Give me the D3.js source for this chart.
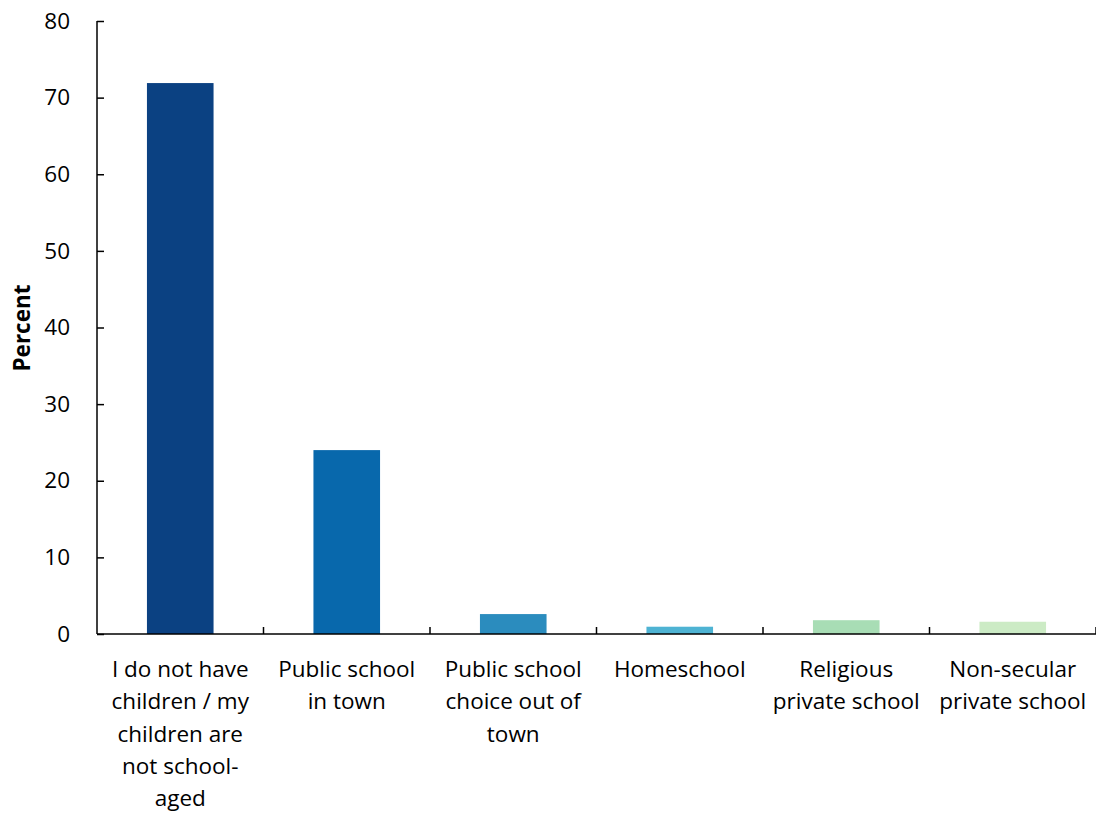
<!DOCTYPE html>
<html><head><meta charset="utf-8">
<script src="https://cdn.jsdelivr.net/npm/d3@7"></script>
<style>body{margin:0;background:#fff}svg{display:block}text{font-family:"Open Sans",Lato,sans-serif;fill:#000}</style>
</head><body>
<svg id="c" width="1096" height="814"></svg>
<script>
const categories = [
  ["I do not have","children / my","children are","not school-","aged"],
  ["Public school","in town"],
  ["Public school","choice out of","town"],
  ["Homeschool"],
  ["Religious","private school"],
  ["Non-secular","private school"]
];
const values = [71.9, 24.0, 2.6, 0.95, 1.8, 1.6];
const colors = ["#0b4182","#0868ac","#2b8cbe","#4eb3d3","#a8ddb5","#ccebc5"];
const yTicks = [0,10,20,30,40,50,60,70,80];
const yLabel = "Percent";

(function(){
const svg = d3.select("#c");
const mL = 97, mR = 1096, mT = 21, mB = 634;
const x = d3.scaleBand().domain(d3.range(categories.length)).range([mL, mR]).paddingInner(0.6).paddingOuter(0.3);
const y = d3.scaleLinear().domain([0,80]).range([mB, mT]);

svg.selectAll("rect.bar").data(values).join("rect").attr("class","bar")
  .attr("x",(d,i)=>x(i)).attr("width",x.bandwidth())
  .attr("y",d=>y(d)).attr("height",d=>mB-y(d))
  .attr("fill",(d,i)=>colors[i]);

// y axis
const ya = svg.append("g").attr("transform",`translate(${mL},0)`)
  .call(d3.axisLeft(y).tickValues(yTicks).tickSize(-7).tickPadding(27));
ya.select(".domain").attr("stroke","#000").attr("stroke-width",1.5).attr("d",`M0,${mT}V${mB}`);
ya.selectAll(".tick line").attr("stroke","#000").attr("stroke-width",1.5);
ya.selectAll(".tick text").attr("font-size",22.5).attr("font-family","'Open Sans',sans-serif");

// x axis
const step = x.step();
const xa = svg.append("g");
xa.append("line").attr("x1",mL).attr("x2",mR).attr("y1",mB).attr("y2",mB).attr("stroke","#000").attr("stroke-width",1.5);
const bounds = d3.range(1, categories.length+1).map(i => mL + i*step);
xa.selectAll("line.t").data(bounds).join("line").attr("class","t")
  .attr("x1",d=>d).attr("x2",d=>d).attr("y1",mB).attr("y2",mB-7).attr("stroke","#000").attr("stroke-width",1.5);

categories.forEach((lines,i)=>{
  const cx = x(i)+x.bandwidth()/2;
  const t = svg.append("text").attr("text-anchor","middle").attr("font-size",22.5);
  lines.forEach((l,j)=>t.append("tspan").attr("x",cx).attr("y",677+j*32.3).text(l));
});

svg.append("text").attr("transform",`translate(30,328) rotate(-90)`)
  .attr("text-anchor","middle").attr("font-size",22.5).attr("font-weight","bold").text(yLabel);
})();
</script>
</body></html>
